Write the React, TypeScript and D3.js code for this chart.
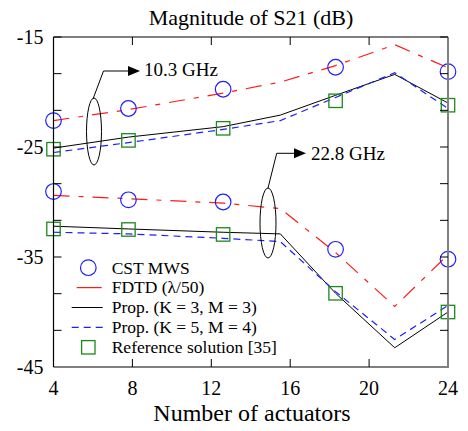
import React from "react";
import * as d3 from "d3";

// x positions of the line vertices and of the markers
const xLine = [4, 7.8, 12.6, 15.5, 18.3, 21.3, 24];
const xMark = [4, 7.8, 12.6, 18.3, 24];

// 10.3 GHz
const fdtd103 = [-22.6, -21.6, -20.1, -19.1, -17.6, -15.7, -17.8];
const propA103 = [-25.1, -24.1, -23.15, -22.1, -20.3, -18.4, -21.0];
const propB103 = [-25.5, -24.6, -23.4, -22.6, -20.5, -18.25, -21.5];
const cst103 = [-22.6, -21.5, -19.75, -17.75, -18.15];
const ref103 = [-25.2, -24.4, -23.3, -20.8, -21.2];

// 22.8 GHz
const fdtd228 = [-29.4, -29.7, -30.1, -30.6, -34.6, -39.5, -34.8];
const propA228 = [-32.2, -32.45, -32.75, -32.9, -38.3, -43.25, -40.0];
const propB228 = [-32.75, -32.9, -33.3, -33.6, -38.15, -42.5, -39.4];
const cst228 = [-29.05, -29.8, -30.0, -34.3, -35.2];
const ref228 = [-32.45, -32.5, -32.95, -38.3, -40.0];

const xTicks = [4, 8, 12, 16, 20, 24];
const yLabels = [-15, -25, -35, -45];
const yTicks = d3.range(0, 10).map(i => -45 + (i * 10) / 3);

const legendItems = ["CST MWS", "FDTD (\u03bb/50)", "Prop. (K = 3, M = 3)", "Prop. (K = 5, M = 4)", "Reference solution [35]"];

const BLUE = "#1f1fff";
const RED = "#ff1a1a";
const GREEN = "#1a8a1a";
const FONT = '"Liberation Serif"';

const left = 53.5, right = 448, top = 37, bottom = 367;

export default function App() {
  const x = d3.scaleLinear().domain([4, 24]).range([left, right]);
  const y = d3.scaleLinear().domain([-45, -15]).range([bottom, top]);

  const line = d3
    .line<number>()
    .x((_, i) => x(xLine[i]))
    .y(d => y(d));

  const series = [
    { data: fdtd103, color: RED, dash: "16,9,5,9", w: 1.2 },
    { data: fdtd228, color: RED, dash: "16,9,5,9", w: 1.2 },
    { data: propA103, color: "#000", dash: "", w: 1 },
    { data: propA228, color: "#000", dash: "", w: 1 },
    { data: propB103, color: BLUE, dash: "7,5", w: 1.2 },
    { data: propB228, color: BLUE, dash: "7,5", w: 1.2 },
  ];

  const circles = [...cst103, ...cst228].map((v, i) => ({ x: xMark[i % 5], v }));
  const squares = [...ref103, ...ref228].map((v, i) => ({ x: xMark[i % 5], v }));

  const legX = 88.3;
  const legY = 267.7;
  const legStep = 19.9;
  const txt = { fontFamily: FONT };

  return (
    <svg width={468} height={431} style={{ position: "absolute", left: 0, top: 0, background: "#fff" }}>
      <text x={251} y={25} textAnchor="middle" fontSize={22} style={txt}>
        Magnitude of S21 (dB)
      </text>

      {/* curves */}
      {series.map((s, i) => (
        <path
          key={i}
          d={line(s.data) || ""}
          fill="none"
          stroke={s.color}
          strokeWidth={s.w}
          strokeDasharray={s.dash}
        />
      ))}

      {/* markers */}
      {circles.map((c, i) => (
        <circle key={"c" + i} cx={x(c.x)} cy={y(c.v)} r={7.8} fill="none" stroke={BLUE} strokeWidth={1.2} />
      ))}
      {squares.map((s, i) => (
        <rect
          key={"s" + i}
          x={x(s.x) - 6.7}
          y={y(s.v) - 6.7}
          width={13.4}
          height={13.4}
          fill="none"
          stroke={GREEN}
          strokeWidth={1.3}
        />
      ))}

      {/* frame */}
      <line x1={left} x2={right} y1={top} y2={top} stroke="#000" strokeWidth={1.2} />
      <line x1={left} x2={right} y1={bottom} y2={bottom} stroke="#000" strokeWidth={1.2} />
      <line x1={left} x2={left} y1={top} y2={bottom} stroke="#000" strokeWidth={1.2} />
      <line x1={right} x2={right} y1={top} y2={bottom + 1} stroke="#808080" strokeWidth={2} />

      {xTicks.slice(1, -1).map(t => (
        <g key={"xt" + t}>
          <line x1={x(t)} x2={x(t)} y1={bottom} y2={bottom - 8} stroke="#000" />
          <line x1={x(t)} x2={x(t)} y1={top} y2={top + 8} stroke="#000" />
        </g>
      ))}
      {yTicks.slice(1).map((t, i) => (
        <g key={"yt" + i}>
          <line x1={left} x2={left + 8} y1={y(t)} y2={y(t)} stroke="#000" />
          <line x1={right} x2={right - 8} y1={y(t)} y2={y(t)} stroke="#000" />
        </g>
      ))}

      {xTicks.map(t => (
        <text key={"xl" + t} x={x(t)} y={395} textAnchor="middle" fontSize={20} style={txt}>
          {t}
        </text>
      ))}
      {yLabels.map(t => (
        <text key={"yl" + t} x={43.5} y={y(t) + 7} textAnchor="end" fontSize={20} style={txt}>
          {t}
        </text>
      ))}
      <text x={252} y={421} textAnchor="middle" fontSize={24} style={txt}>
        Number of actuators
      </text>

      {/* 10.3 GHz annotation */}
      <ellipse cx={94} cy={131.5} rx={7.5} ry={33.5} fill="none" stroke="#000" strokeWidth={1} />
      <polyline points="93,99 103.5,71 129,71" fill="none" stroke="#000" strokeWidth={1} />
      <polygon points="128,66 140,71 128,76" fill="#000" />
      <text x={144} y={76} fontSize={19} style={txt}>
        10.3 GHz
      </text>

      {/* 22.8 GHz annotation */}
      <ellipse cx={268} cy={223} rx={8} ry={35} fill="none" stroke="#000" strokeWidth={1} />
      <polyline points="268,188 276.7,153.3 295,153.3" fill="none" stroke="#000" strokeWidth={1} />
      <polygon points="294,148.3 306,153.3 294,158.3" fill="#000" />
      <text x={311} y={160} fontSize={19} style={txt}>
        22.8 GHz
      </text>

      {/* legend */}
      <circle cx={legX} cy={legY} r={7.8} fill="none" stroke={BLUE} strokeWidth={1.2} />
      <line x1={76.7} x2={101.7} y1={legY + legStep} y2={legY + legStep} stroke={RED} strokeWidth={1.2} />
      <line x1={71.7} x2={102.7} y1={legY + 2 * legStep} y2={legY + 2 * legStep} stroke="#000" strokeWidth={1} />
      <line
        x1={71.7}
        x2={104}
        y1={legY + 3 * legStep}
        y2={legY + 3 * legStep}
        stroke={BLUE}
        strokeWidth={1.2}
        strokeDasharray="7,5"
      />
      <rect x={legX - 6.7} y={legY + 4 * legStep - 6.7} width={13.4} height={13.4} fill="none" stroke={GREEN} strokeWidth={1.3} />
      {legendItems.map((t, i) => (
        <text key={t} x={111.7} y={legY + i * legStep + 5.8} fontSize={17.5} style={txt}>
          {t}
        </text>
      ))}
    </svg>
  );
}
